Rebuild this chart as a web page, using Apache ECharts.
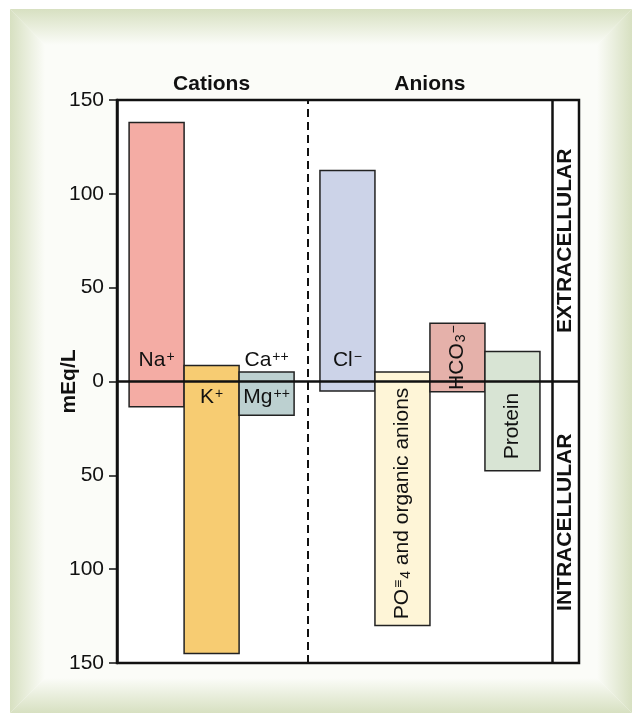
<!DOCTYPE html>
<html>
<head>
<meta charset="utf-8">
<script src="https://cdn.jsdelivr.net/npm/echarts@6/dist/echarts.min.js"></script>
<style>html,body{margin:0;padding:0;background:#fff}#c{width:632px;height:713px}</style>
</head>
<body>
<div id="c"></div>
<script>
// ---- data ----
const cationNames = ['Na', 'K', 'Ca/Mg'];
const cationExtra = [138, 8.5, 5];      // mEq/L, extracellular (upward)
const cationIntra = [13.5, 145, 18];    // mEq/L, intracellular (downward)
const anionNames = ['Cl', 'PO4 and organic anions', 'HCO3', 'Protein'];
const anionExtra = [112.5, 5, 31, 16];
const anionIntra = [5, 130, 5.5, 47.5];
const yTickValues = [150, 100, 50, 0, 50, 100, 150];
const groupTitles = ['Cations', 'Anions'];
const regionTitles = ['EXTRACELLULAR', 'INTRACELLULAR'];

// ---- styling / layout ----
const FONT = "'Liberation Sans', Arial, Helvetica, sans-serif";
const FS = 21;
const cationColors = ['#f4aca4', '#f7cc72', '#bcd0d0'];
const anionColors = ['#ccd3e8', '#fef5d7', '#e5b1aa', '#d8e4d4'];
const edge = 0.22, mid = 0.47, colW = 0.49;
const cationStart = edge;
const divider = edge + cationNames.length + mid / 2;
const anionStart = edge + cationNames.length + mid;
const plotEnd = anionStart + anionNames.length + edge;
const xMax = plotEnd + colW;

const rich = {
  b: { fontSize: FS, fontFamily: FONT, fill: '#111' },
  s: { fontSize: 14, fontFamily: FONT, fill: '#111', verticalAlign: 'top', padding: [0, 0, 0, 1] },
  d: { fontSize: 14, fontFamily: FONT, fill: '#111', verticalAlign: 'bottom', padding: [0, 0, 0, 1] }
};
// label specs per bar (text + placement)
const cationLabels = [
  [{ t: '{b|Na}{s|+}', p: 'above' }],
  [{ t: '{b|K}{s|+}', p: 'below' }],
  [{ t: '{b|Ca}{s|++}', p: 'above' }, { t: '{b|Mg}{s|++}', p: 'below' }]
];
const anionLabels = [
  [{ t: '{b|Cl}{s|−}', p: 'above' }],
  [{ t: '{b|PO}{s|≡}{d|4}{b| and organic anions}', p: 'rotIntra' }],
  [{ t: '{b|HCO}{d|3}{s|−}', p: 'rotBar' }],
  [{ t: '{b|Protein}', p: 'rotIntra' }]
];

const barData = [];
cationNames.forEach((n, i) => barData.push({ value: [cationStart + i, cationStart + i + 1, -cationIntra[i], cationExtra[i]], color: cationColors[i], labels: cationLabels[i] }));
anionNames.forEach((n, i) => barData.push({ value: [anionStart + i, anionStart + i + 1, -anionIntra[i], anionExtra[i]], color: anionColors[i], labels: anionLabels[i] }));

function renderBar(params, api) {
  const d = barData[params.dataIndex];
  const p0 = api.coord([api.value(0), api.value(3)]);
  const p1 = api.coord([api.value(1), api.value(2)]);
  const z0 = api.coord([0, 0])[1];
  const cx = (p0[0] + p1[0]) / 2;
  const children = [{
    type: 'rect',
    shape: { x: p0[0], y: p0[1], width: p1[0] - p0[0], height: p1[1] - p0[1] },
    style: { fill: d.color, stroke: '#222', lineWidth: 1.5 }
  }];
  d.labels.forEach(l => {
    let x = cx, y, rot = 0;
    if (l.p === 'above') y = z0 - 21;
    else if (l.p === 'below') y = z0 + 16;
    else if (l.p === 'rotIntra') { y = (z0 + p1[1]) / 2; rot = Math.PI / 2; }
    else { y = (p0[1] + p1[1]) / 2; rot = Math.PI / 2; }
    children.push({
      type: 'text', x: x, y: y, rotation: rot, z2: 10,
      style: { text: l.t, rich: rich, align: 'center', verticalAlign: 'middle', fill: '#111', fontFamily: FONT, fontSize: FS }
    });
  });
  return { type: 'group', children: children };
}

const titleData = [
  [cationStart + cationNames.length / 2, groupTitles[0]],
  [anionStart + anionNames.length / 2, groupTitles[1]]
];
function renderTitle(params, api) {
  const p = api.coord([titleData[params.dataIndex][0], 150]);
  return {
    type: 'text', x: p[0], y: p[1] - 16,
    style: { text: titleData[params.dataIndex][1], align: 'center', verticalAlign: 'middle', fill: '#111', fontFamily: FONT, fontSize: FS, fontWeight: 'bold' }
  };
}
const regionData = [[plotEnd + colW / 2, 75, regionTitles[0]], [plotEnd + colW / 2, -75, regionTitles[1]]];
function renderRegion(params, api) {
  const r = regionData[params.dataIndex];
  const p = api.coord([r[0], r[1]]);
  return {
    type: 'text', x: p[0], y: p[1], rotation: Math.PI / 2,
    style: { text: r[2], align: 'center', verticalAlign: 'middle', fill: '#111', fontFamily: FONT, fontSize: FS, fontWeight: 'bold' }
  };
}

// background bevel frame
const G = '#d7e0c1', W = '#fbfcf8';
const L = 10, T = 9, R = 632, B = 713, iL = 45, iT = 45, iR = 597, iB = 678;
function grad(x0, y0, x1, y1) { return new echarts.graphic.LinearGradient(x0, y0, x1, y1, [{ offset: 0, color: G }, { offset: 1, color: W }]); }
const bg = [
  { type: 'rect', shape: { x: L, y: T, width: R - L, height: B - T }, style: { fill: W }, z: -10 },
  { type: 'polygon', shape: { points: [[L, T], [R, T], [iR, iT], [iL, iT]] }, style: { fill: grad(0, 0, 0, 1) }, z: -9 },
  { type: 'polygon', shape: { points: [[L, B], [R, B], [iR, iB], [iL, iB]] }, style: { fill: grad(0, 1, 0, 0) }, z: -9 },
  { type: 'polygon', shape: { points: [[L, T], [iL, iT], [iL, iB], [L, B]] }, style: { fill: grad(0, 0, 1, 0) }, z: -9 },
  { type: 'polygon', shape: { points: [[R, T], [iR, iT], [iR, iB], [R, B]] }, style: { fill: grad(1, 0, 0, 0) }, z: -9 },
  { type: 'rect', shape: { x: 117, y: 100, width: 462, height: 563 }, style: { fill: '#fff' }, z: -8 }
];

const chart = echarts.init(document.getElementById('c'), null, { renderer: 'canvas' });
chart.setOption({
  animation: false,
  backgroundColor: '#fff',
  graphic: bg,
  grid: { left: 117, right: 53, top: 100, bottom: 50, show: true, borderColor: '#111', borderWidth: 2.5, backgroundColor: 'transparent' },
  xAxis: { type: 'value', min: 0, max: xMax, show: false, splitLine: { show: false } },
  yAxis: {
    type: 'value', min: -150, max: 150, interval: 50,
    name: 'mEq/L', nameLocation: 'middle', nameRotate: 90, nameGap: 37, nameMoveOverlap: false,
    nameTextStyle: { fontFamily: FONT, fontSize: FS, fontWeight: 'bold', color: '#111' },
    axisLine: { show: true, lineStyle: { color: '#111', width: 2.5 } },
    axisTick: { show: true, length: 8, lineStyle: { color: '#111', width: 1.5 } },
    axisLabel: { fontFamily: FONT, fontSize: FS, color: '#111', margin: 13, formatter: v => String(yTickValues[Math.round((150 - v) / 50)]) },
    splitLine: { show: false }
  },
  series: [
    { type: 'custom', renderItem: renderBar, data: barData.map(d => d.value), clip: false, z: 2, silent: true },
    { type: 'custom', renderItem: renderTitle, data: titleData.map(t => [t[0], 150]), clip: false, z: 3, silent: true },
    { type: 'custom', renderItem: renderRegion, data: regionData.map(r => [r[0], r[1]]), clip: false, z: 3, silent: true },
    {
      type: 'line', data: [], z: 5, silent: true,
      markLine: {
        silent: true, symbol: 'none', animation: false, label: { show: false },
        data: [
          { yAxis: 0, lineStyle: { color: '#111', width: 2.5, type: 'solid' } },
          { xAxis: divider, lineStyle: { color: '#111', width: 2, type: [8, 5] } },
          { xAxis: plotEnd, lineStyle: { color: '#111', width: 2.5, type: 'solid' } }
        ]
      }
    }
  ]
});
</script>
</body>
</html>
